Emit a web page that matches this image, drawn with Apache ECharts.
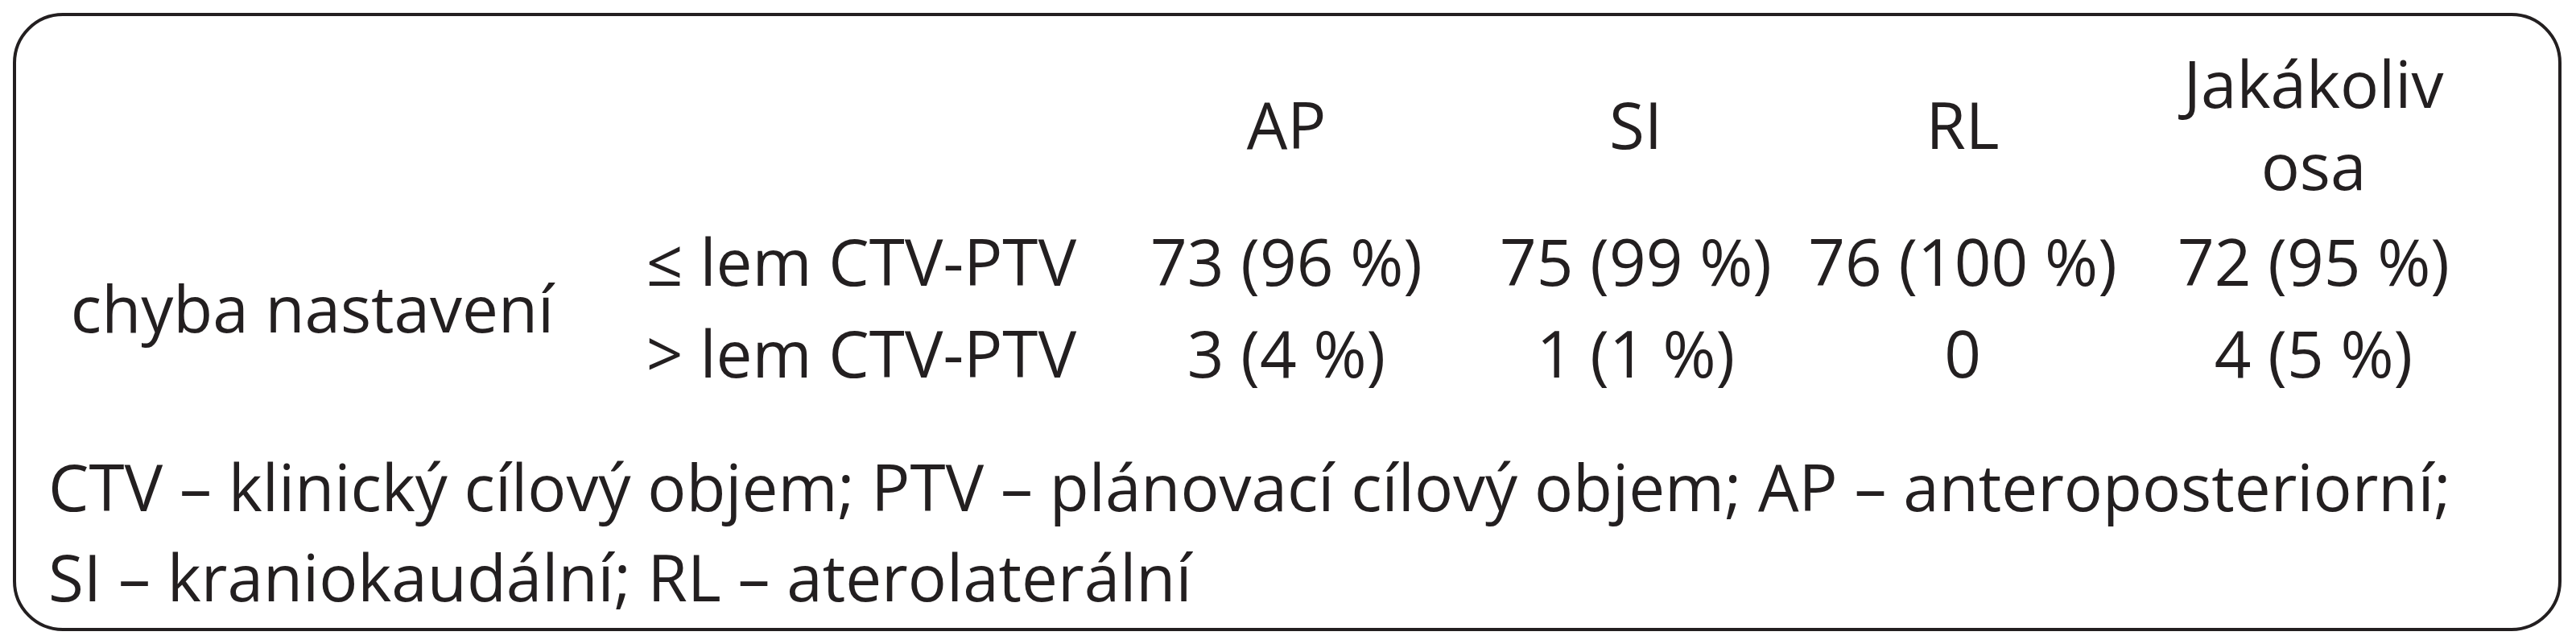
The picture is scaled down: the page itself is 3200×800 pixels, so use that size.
<!DOCTYPE html>
<html><head><meta charset="utf-8">
<script src="https://cdn.jsdelivr.net/npm/echarts@6/dist/echarts.min.js"></script>
<style>html,body{margin:0;background:#fff}#c{width:3200px;height:800px}</style>
</head><body><div id="c"></div>
<script>
var columns = ['AP', 'SI', 'RL', 'Jakákoliv\nosa'];
var rowGroup = 'chyba nastavení';
var rowLabels = ['≤ lem CTV-PTV', '> lem CTV-PTV'];
var row1 = ['73 (96 %)', '75 (99 %)', '76 (100 %)', '72 (95 %)'];
var row2 = ['3 (4 %)', '1 (1 %)', '0', '4 (5 %)'];
var notes = ['CTV – klinický cílový objem; PTV – plánovací cílový objem; AP – anteroposteriorní;',
  'SI – kraniokaudální; RL – aterolaterální'];

var font = '"Open Sans", "Liberation Sans", sans-serif';
var fs = 80;
var colX = [1598, 2032, 2438, 2874];
var rowY = [332, 446];
function txt(x, y, s, align) {
  return {type: 'text', x: x, y: y, style: {text: s, font: fs + 'px ' + font, fill: '#231f20',
    align: align || 'center', verticalAlign: 'middle', lineHeight: 102}};
}
var els = [{type: 'rect', shape: {x: 18, y: 18, width: 3162, height: 764, r: 60},
  style: {fill: 'none', stroke: '#231f20', lineWidth: 4}}];
columns.forEach(function (c, i) { els.push(txt(colX[i], 162, c)); });
els.push(txt(388, 390, rowGroup));
rowLabels.forEach(function (r, i) { els.push(txt(1070, rowY[i], r)); });
[row1, row2].forEach(function (row, j) {
  row.forEach(function (v, i) { els.push(txt(colX[i], rowY[j], v)); });
});
notes.forEach(function (n, i) { els.push(txt(60, 612 + i * 112, n, 'left')); });

var myChart = echarts.init(document.getElementById('c'));
myChart.setOption({graphic: {elements: els}});
</script></body></html>
